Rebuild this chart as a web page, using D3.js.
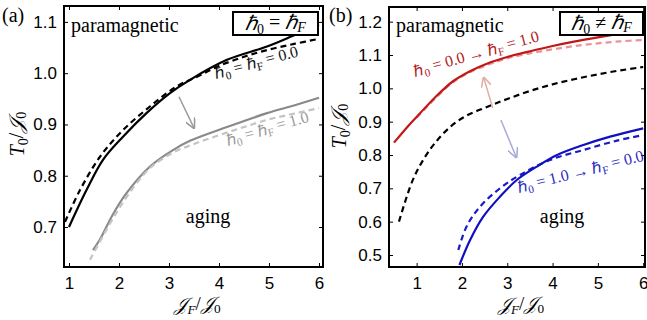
<!DOCTYPE html>
<html>
<head>
<meta charset="utf-8">
<script src="https://cdn.jsdelivr.net/npm/d3@7"></script>
<style>
  body { margin: 0; background: #fff; }
  svg { display: block; }
  .tick text { font-family: "Liberation Sans", Arial, sans-serif; font-size: 17px; }
</style>
</head>
<body>
<svg width="647" height="320"></svg>
<script>
const SERIF = '"Liberation Serif", "Times New Roman", serif'

// panel (a): h0 = hF
const aXTicks = [1, 2, 3, 4, 5, 6]
const aYTicks = [0.7, 0.8, 0.9, 1.0, 1.1]
const aBlackSolid = [[1.0,0.70],[1.35,0.772],[1.68,0.831],[2.08,0.876],[2.55,0.922],[3.02,0.961],[3.42,0.987],[4.16,1.026],[4.96,1.052],[5.48,1.073],[6.0,1.095]]
const aBlackDash = [[0.92,0.71],[1.22,0.772],[1.62,0.837],[2.08,0.889],[2.62,0.935],[3.15,0.974],[3.6,0.995],[4.0,1.014],[4.5,1.032],[5.0,1.046],[5.5,1.057],[6.0,1.067]]
const aGraySolid = [[1.48,0.655],[1.62,0.676],[1.88,0.725],[2.15,0.766],[2.62,0.818],[3.08,0.85],[3.42,0.868],[4.16,0.895],[4.96,0.922],[5.5,0.937],[6.0,0.952]]
const aGrayDash = [[1.42,0.636],[1.62,0.672],[1.9,0.72],[2.2,0.765],[2.62,0.815],[3.08,0.845],[3.5,0.862],[4.0,0.879],[4.5,0.895],[5.0,0.91],[5.5,0.921],[6.0,0.932]]

// panel (b): h0 != hF
const bXTicks = [1, 2, 3, 4, 5, 6]
const bYTicks = [0.5, 0.6, 0.7, 0.8, 0.9, 1.0, 1.1, 1.2]
const bRedSolid = [[0.5,0.837],[0.8,0.885],[1.08,0.926],[1.4,0.972],[1.81,1.022],[2.2,1.053],[2.55,1.074],[3.0,1.094],[3.5,1.111],[4.0,1.127],[4.5,1.141],[5.0,1.153],[5.5,1.164],[6.0,1.175]]
const bRedDash = [[1.0,0.912],[1.4,0.968],[1.8,1.018],[2.2,1.05],[2.6,1.072],[3.0,1.09],[3.5,1.105],[4.0,1.117],[4.5,1.127],[5.0,1.135],[5.5,1.141],[6.0,1.145]]
const bBlackDash = [[0.61,0.60],[0.9,0.72],[1.14,0.784],[1.4,0.835],[1.74,0.884],[2.1,0.918],[2.55,0.944],[3.0,0.968],[3.5,0.992],[4.0,1.012],[4.5,1.028],[5.0,1.042],[5.5,1.054],[6.0,1.064]]
const bBlueSolid = [[1.945,0.47],[2.18,0.545],[2.47,0.615],[2.84,0.675],[3.21,0.725],[3.65,0.765],[4.1,0.80],[4.68,0.83],[5.27,0.855],[6.0,0.88]]
const bBlueDash = [[1.92,0.515],[2.1,0.585],[2.4,0.645],[2.84,0.70],[3.28,0.74],[3.94,0.785],[4.68,0.815],[5.42,0.843],[6.0,0.86]]

const svg = d3.select("svg")
const fmt = d3.format(".1f")

const panels = [
  {
    id: "a", box: [64, 6, 323, 267], x: [0.9, 6.08], y: [0.622, 1.131],
    xTicks: aXTicks, yTicks: aYTicks,
    series: [
      { data: aBlackSolid, color: "#000", dash: null },
      { data: aBlackDash, color: "#000", dash: "6,4" },
      { data: aGraySolid, color: "#8a8a8a", dash: null },
      { data: aGrayDash, color: "#c4c4c4", dash: "6,4" }
    ],
    label: "(a)", labelPos: [2, 22], ylabelPos: [24, 134],
    legend: "=", legendBox: [233, 12, 85, 23],
    arrows: [{ from: [3.2, 0.954], to: [3.5, 0.893], color: "#999" }],
    notes: [
      { a: "0.0", pos: [258, 69], rot: -14, color: "#111", kind: "eq" },
      { a: "1.0", pos: [269, 135], rot: -15, color: "#999", kind: "eq" }
    ],
    aging: [208, 223]
  },
  {
    id: "b", box: [389, 7, 645, 267], x: [0.39, 6.04], y: [0.464, 1.244],
    xTicks: bXTicks, yTicks: bYTicks,
    series: [
      { data: bBlackDash, color: "#000", dash: "6,4" },
      { data: bRedDash, color: "#e89494", dash: "6,4" },
      { data: bRedSolid, color: "#c01818", dash: null },
      { data: bBlueDash, color: "#1a1ac8", dash: "6,4" },
      { data: bBlueSolid, color: "#1010c0", dash: null }
    ],
    label: "(b)", labelPos: [329, 22], ylabelPos: [346, 126],
    legend: "≠", legendBox: [560, 12, 83, 23],
    arrows: [
      { from: [2.68, 0.941], to: [2.48, 1.032], color: "#e2b0a0" },
      { from: [2.86, 0.905], to: [3.2, 0.793], color: "#aaaad8" }
    ],
    notes: [
      { a: "0.0", b: "1.0", pos: [478, 60], rot: -15, color: "#b01c1c", kind: "arrow" },
      { a: "1.0", b: "0.0", pos: [582, 178], rot: -13.5, color: "#2a2ac0", kind: "arrow" }
    ],
    aging: [562, 223]
  }
]

const arrowColors = ["#999", "#e2b0a0", "#aaaad8"]
svg.append("defs").selectAll("marker")
  .data(arrowColors)
  .join("marker")
    .attr("id", (d, i) => "arr" + i)
    .attr("viewBox", "0 0 10 10")
    .attr("refX", 9).attr("refY", 5)
    .attr("markerWidth", 7).attr("markerHeight", 7)
    .attr("orient", "auto")
  .append("path")
    .attr("d", "M0,0 L10,5 L0,10")
    .attr("fill", "none")
    .attr("stroke", d => d)
    .attr("stroke-width", 1.5)

const sub = (t, s, italic) =>
  t.append("tspan").text(s).attr("font-size", "0.7em").attr("dy", "0.25em")
    .attr("font-style", italic ? "italic" : "normal")
const up = (t, s, italic) =>
  t.append("tspan").text(s).attr("dy", "-0.25em").attr("font-style", italic ? "italic" : "normal")

panels.forEach(p => {
  const [x0, y0, x1, y1] = p.box
  const x = d3.scaleLinear().domain(p.x).range([x0, x1])
  const y = d3.scaleLinear().domain(p.y).range([y1, y0])
  const g = svg.append("g")

  g.append("clipPath").attr("id", "clip" + p.id)
    .append("rect").attr("x", x0).attr("y", y0).attr("width", x1 - x0).attr("height", y1 - y0)

  // axes, ticks pointing in
  g.append("g").attr("transform", `translate(0,${y1})`)
    .call(d3.axisBottom(x).tickValues(p.xTicks).tickSize(-4).tickPadding(10).tickFormat(d3.format("d")))
    .call(a => a.select(".domain").remove())
  g.append("g").attr("transform", `translate(0,${y0})`)
    .call(d3.axisTop(x).tickValues(p.xTicks).tickSize(-4).tickFormat(""))
    .call(a => a.select(".domain").remove())
  g.append("g").attr("transform", `translate(${x0},0)`)
    .call(d3.axisLeft(y).tickValues(p.yTicks).tickSize(-4).tickPadding(7).tickFormat(fmt))
    .call(a => a.select(".domain").remove())
  g.append("g").attr("transform", `translate(${x1},0)`)
    .call(d3.axisRight(y).tickValues(p.yTicks).tickSize(-4).tickFormat(""))
    .call(a => a.select(".domain").remove())
  g.selectAll(".tick text").attr("fill", "#000")
  g.selectAll(".tick line").attr("stroke", "#000")

  const line = d3.line().x(d => x(d[0])).y(d => y(d[1])).curve(d3.curveCatmullRom.alpha(0.5))
  g.append("g").attr("clip-path", `url(#clip${p.id})`)
    .selectAll("path")
    .data(p.series)
    .join("path")
      .attr("d", d => line(d.data))
      .attr("fill", "none")
      .attr("stroke", d => d.color)
      .attr("stroke-width", 2.2)
      .attr("stroke-dasharray", d => d.dash)

  g.selectAll("line.arrow")
    .data(p.arrows)
    .join("line")
      .attr("class", "arrow")
      .attr("x1", d => x(d.from[0])).attr("y1", d => y(d.from[1]))
      .attr("x2", d => x(d.to[0])).attr("y2", d => y(d.to[1]))
      .attr("stroke", d => d.color)
      .attr("stroke-width", 1.5)
      .attr("marker-end", d => `url(#arr${arrowColors.indexOf(d.color)})`)

  // frame
  g.append("rect")
    .attr("x", x0).attr("y", y0).attr("width", x1 - x0).attr("height", y1 - y0)
    .attr("fill", "none").attr("stroke", "#000").attr("stroke-width", 2)

  // legend box
  const [lx, ly, lw, lh] = p.legendBox
  g.append("rect").attr("x", lx).attr("y", ly).attr("width", lw).attr("height", lh)
    .attr("fill", "#fff").attr("stroke", "#000").attr("stroke-width", 2)
  const lt = g.append("text").style("font-family", SERIF)
    .attr("x", lx + lw / 2).attr("y", ly + 18).attr("text-anchor", "middle")
    .attr("font-size", 20)
  lt.append("tspan").text("ℏ").attr("font-style", "italic")
  sub(lt, "0")
  up(lt, " " + p.legend + " ")
  lt.append("tspan").text("ℏ").attr("font-style", "italic")
  sub(lt, "F", true)

  g.append("text").style("font-family", SERIF)
    .attr("x", p.labelPos[0]).attr("y", p.labelPos[1])
    .attr("font-size", 20).text(p.label)

  g.append("text").style("font-family", SERIF)
    .attr("x", x0 + 7).attr("y", 32)
    .attr("font-size", 20).text("paramagnetic")

  g.append("text").style("font-family", SERIF)
    .attr("x", p.aging[0]).attr("y", p.aging[1]).attr("text-anchor", "middle")
    .attr("font-size", 20).text("aging")

  // rotated curve notes
  p.notes.forEach(n => {
    const t = g.append("text").style("font-family", SERIF)
      .attr("transform", `translate(${n.pos[0]},${n.pos[1]}) rotate(${n.rot})`)
      .attr("text-anchor", "middle").attr("font-size", 16).attr("fill", n.color)
    t.append("tspan").text("ℏ")
    sub(t, "0")
    if (n.kind === "eq") {
      up(t, " = ℏ")
      sub(t, "F")
      up(t, " = " + n.a)
    } else {
      up(t, " = " + n.a + " → ℏ")
      sub(t, "F")
      up(t, " = " + n.b)
    }
  })

  // axis titles
  const xt = g.append("text").style("font-family", SERIF)
    .attr("x", (x0 + x1) / 2 + 4).attr("y", 311).attr("text-anchor", "middle")
    .attr("font-size", 19).attr("font-style", "italic")
  xt.append("tspan").text("𝒥")
  sub(xt, "F", true)
  up(xt, "/")
  xt.append("tspan").text("𝒥").attr("font-style", "italic")
  sub(xt, "0")

  const yt = g.append("text").style("font-family", SERIF)
    .attr("transform", `translate(${p.ylabelPos[0]},${p.ylabelPos[1]}) rotate(-90)`)
    .attr("text-anchor", "middle").attr("font-size", 20).attr("font-style", "italic")
  yt.append("tspan").text("T")
  sub(yt, "0")
  up(yt, "/")
  yt.append("tspan").text("𝒥").attr("font-style", "italic")
  sub(yt, "0")
})
</script>
</body>
</html>
